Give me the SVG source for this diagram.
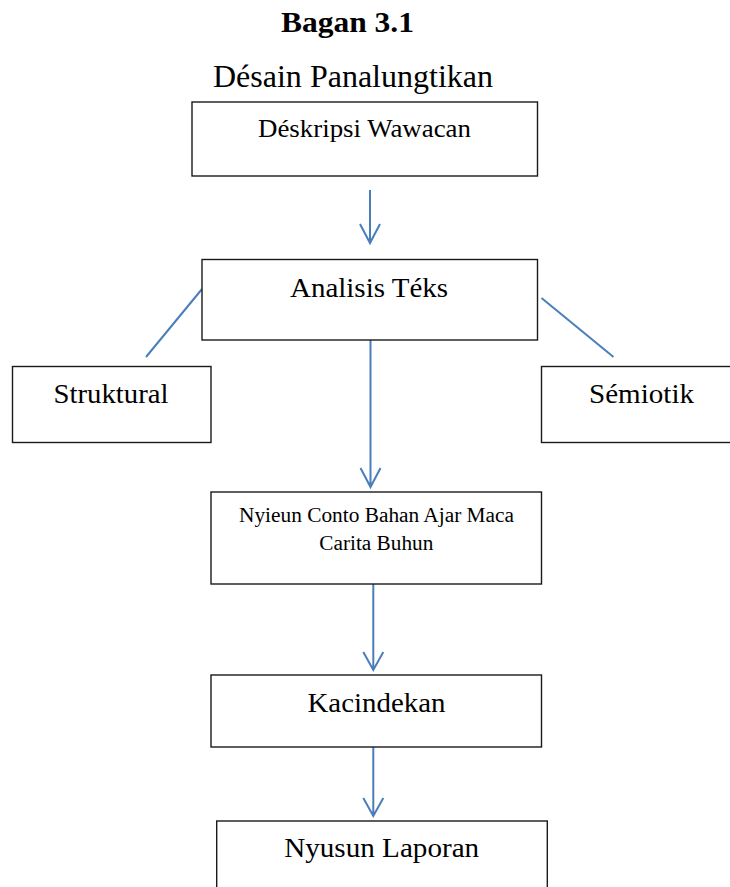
<svg xmlns="http://www.w3.org/2000/svg" width="730" height="887" viewBox="0 0 730 887">
<style>
.box{fill:#fff;stroke:#1a1a1a;stroke-width:1.4}
.t{font-family:'Liberation Serif','Times New Roman',serif;fill:#000;text-anchor:middle}
.c{fill:none;stroke:#4a7ebb;stroke-width:2}
</style>
<rect width="730" height="887" fill="#fff"/>
<text class="t" x="347.5" y="31.7" font-size="29" font-weight="bold" textLength="133" lengthAdjust="spacingAndGlyphs">Bagan 3.1</text>
<text class="t" x="353" y="86.7" font-size="31" textLength="280" lengthAdjust="spacingAndGlyphs">Désain Panalungtikan</text>
<g id="connectors">
<path class="c" d="M370 190V243M360 224L370 243L380 224"/>
<path class="c" d="M202 289L146 357"/>
<path class="c" d="M541.5 298L613.5 357"/>
<path class="c" d="M370.5 340V487M360.5 468L370.5 487L380.5 468"/>
<path class="c" d="M373.3 584V670M363.3 652L373.3 670L383.3 652"/>
<path class="c" d="M373.3 747V816M363.3 798L373.3 816L383.3 798"/>
</g>
<g id="deskripsi"><rect class="box" x="192" y="102" width="345.5" height="74"/>
<text class="t" x="364.5" y="136.7" font-size="25" textLength="213" lengthAdjust="spacingAndGlyphs">Déskripsi Wawacan</text></g>
<g id="analisis"><rect class="box" x="202" y="259.5" width="335.5" height="80.5"/>
<text class="t" x="369" y="296.7" font-size="28" textLength="158" lengthAdjust="spacingAndGlyphs">Analisis Téks</text></g>
<g id="struktural"><rect class="box" x="12.5" y="366.5" width="198.5" height="76"/>
<text class="t" x="111" y="402.7" font-size="28" textLength="115" lengthAdjust="spacingAndGlyphs">Struktural</text></g>
<g id="semiotik"><rect class="box" x="541.5" y="366.5" width="192" height="76"/>
<text class="t" x="641.5" y="402.7" font-size="28" textLength="105" lengthAdjust="spacingAndGlyphs">Sémiotik</text></g>
<g id="nyieun"><rect class="box" x="211" y="492" width="330.5" height="92"/>
<text class="t" x="376.5" y="521.7" font-size="20" textLength="275" lengthAdjust="spacingAndGlyphs">Nyieun Conto Bahan Ajar Maca</text>
<text class="t" x="376.3" y="550" font-size="20" textLength="114" lengthAdjust="spacingAndGlyphs">Carita Buhun</text></g>
<g id="kacindekan"><rect class="box" x="211" y="675" width="330.5" height="72"/>
<text class="t" x="376.5" y="711.7" font-size="28" textLength="138" lengthAdjust="spacingAndGlyphs">Kacindekan</text></g>
<g id="nyusun"><rect class="box" x="216.7" y="821" width="330.6" height="80"/>
<text class="t" x="381.7" y="857" font-size="28" textLength="195" lengthAdjust="spacingAndGlyphs">Nyusun Laporan</text></g>
</svg>
